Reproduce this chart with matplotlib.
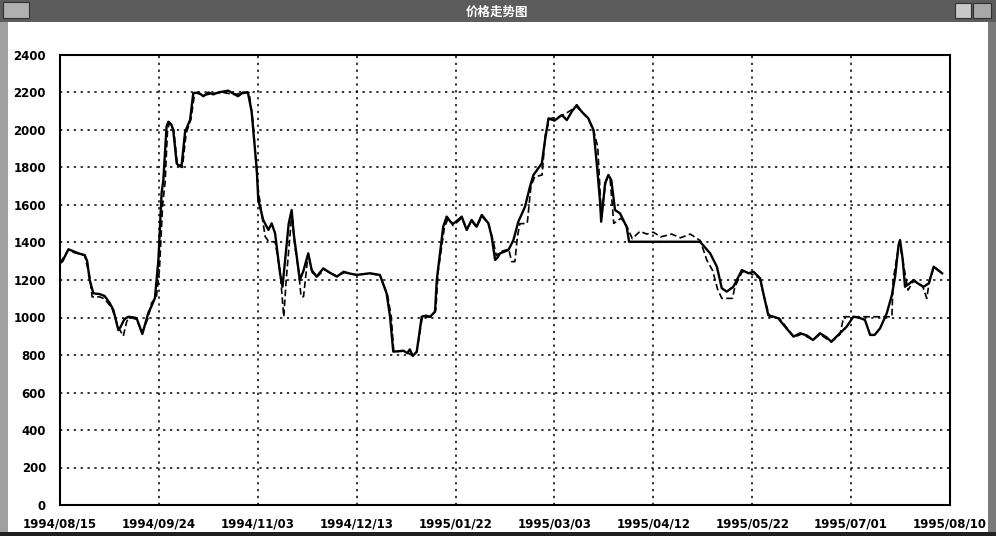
import numpy as np
import matplotlib
matplotlib.use("Agg")
import matplotlib.pyplot as plt
from matplotlib.patches import Rectangle

plt.rcParams['font.family'] = ['DejaVu Sans', 'Noto Sans CJK SC']

# day offsets from 1994/08/15 and values
solid_days = [0, 1, 3.4, 6, 8, 10, 11, 12, 13.5, 16, 18, 20, 21.6, 23.6, 24.5, 26, 27.6, 30, 31, 33.3,
              35.7, 37, 38.4, 39.8, 41.1, 41.8, 43.1, 43.8, 45, 45.8, 47.2, 48, 49.2, 50.6, 52.6, 53.9,
              56, 58, 60, 62, 64, 66, 68, 70, 72, 74, 76, 77.5, 79.6, 80.2, 82.2, 84.3, 85.6, 87, 89, 90,
              91, 92.5, 93.7, 94.5, 95.6, 97, 98.5, 100.4, 101.8, 103.8, 106.5, 109, 112, 114.7, 117, 120,
              123, 125.4, 129.4, 132.1, 133.5, 134.8, 137, 138.9, 140.5, 141.5, 142.7, 144.3, 146.3, 148,
              149.7, 151.7, 152.4, 155, 156.4, 158, 159, 161, 162.5, 164.5, 166.5, 168.5, 170.6, 173.3,
              174.6, 176, 177, 178, 181.4, 183.4, 185.4, 188.1, 190.1, 191.5, 194.9, 196.2, 197.6, 200,
              203, 205, 207, 209, 211, 213.7, 215.8, 217.1, 218.4, 218.9, 220.5, 221.8, 223, 224.5, 226.5,
              229.2, 230.2, 258.9, 263, 265.7, 267.7, 269.7, 272.4, 275.8, 278.5, 280.5, 283.2, 284.5,
              286.5, 290.5, 293.3, 296.7, 299.4, 302, 304.6, 307.4, 310, 312, 315.5, 318.2, 320.9, 323,
              325.6, 327.7, 329.5, 331.7, 334.4, 336.5, 337.8, 339.2, 339.8, 340.9, 341.8, 343.5, 345.3,
              347, 349.3, 351.4, 353.4, 356.8]
solid_vals = [1290, 1300, 1364, 1350, 1340, 1333, 1300, 1200, 1129, 1125, 1115, 1080, 1040, 933, 950, 990,
              1004, 1000, 996, 912, 1024, 1060, 1104, 1307, 1664, 1733, 2018, 2044, 2030, 2000, 1822, 1810,
              1813, 1991, 2053, 2196, 2200, 2180, 2200, 2190, 2200, 2205, 2210, 2195, 2180, 2200, 2200,
              2100, 1787, 1627, 1520, 1467, 1502, 1449, 1236, 1164, 1300, 1500, 1573, 1450, 1342, 1200,
              1250, 1342, 1253, 1218, 1262, 1240, 1218, 1244, 1235, 1227, 1232, 1236, 1227, 1129, 1004,
              818, 820, 823, 810, 830, 795, 818, 1004, 1010, 1004, 1031, 1200, 1484, 1538, 1510, 1500,
              1520, 1538, 1467, 1520, 1484, 1547, 1502, 1431, 1307, 1320, 1342, 1360, 1413, 1511, 1591,
              1698, 1760, 1822, 1947, 2062, 2050, 2080, 2053, 2098, 2133, 2098, 2062, 2000, 1822, 1627,
              1511, 1716, 1760, 1733, 1573, 1556, 1484, 1404, 1404, 1342, 1271, 1156, 1138, 1164, 1253,
              1236, 1244, 1209, 1129, 1013, 996, 951, 898, 916, 905, 880, 916, 895, 871, 916, 951, 1004,
              1000, 987, 907, 907, 942, 1022, 1120, 1218, 1387, 1413, 1307, 1164, 1180, 1200, 1182, 1164,
              1182, 1271, 1236]

dash_days = [0, 3.4, 6, 10, 12, 13, 16, 18, 21, 23.5, 25.6, 27, 28.5, 31, 33.3, 35.7, 37, 39, 40.2, 41.5,
             42.5, 43.5, 44.3, 46, 47.5, 49.5, 51, 53, 54.5, 58, 62, 66, 70, 74, 76.5, 78, 80, 81.5, 83,
             84.5, 87, 89, 90.5, 91.5, 93.8, 95, 96.5, 97.5, 98.5, 100.4, 102, 104, 107, 112, 115, 120,
             125.4, 129.4, 132.5, 134, 135, 139, 142.7, 144.3, 146.5, 150, 152, 153, 155.5, 157, 159,
             162.5, 164.5, 166.5, 168.5, 170.6, 173.3, 175, 176.5, 178, 181.5, 182.7, 184, 185, 186, 189,
             190.5, 192, 195, 196.3, 198, 203, 209, 213.7, 216, 217.5, 219, 220.8, 222.5, 224, 227,
             229.5, 231.5, 234.6, 237.3, 240, 243, 247.4, 251, 254.9, 259, 261.6, 264, 266, 267.7, 272,
             273, 276, 279, 283, 285, 287, 291, 294, 297, 300, 304.6, 307.4, 312, 315.5, 317, 336.5, 337,
             339.5, 340.5, 343, 345.3, 349, 350.6, 351.5, 353.5, 356.8]
dash_vals = [1290, 1360, 1345, 1330, 1220, 1110, 1110, 1100, 1050, 950, 901, 980, 1000, 990, 920, 1000,
             1077, 1110, 1250, 1600, 1720, 2000, 2040, 2000, 1810, 1800, 1980, 2060, 2200, 2185, 2195,
             2200, 2190, 2195, 2200, 2050, 1700, 1560, 1431, 1404, 1404, 1250, 1004, 1200, 1560, 1380,
             1250, 1111, 1111, 1342, 1240, 1218, 1255, 1220, 1240, 1228, 1234, 1225, 1120, 1000, 820,
             820, 798, 815, 1000, 1004, 1040, 1250, 1480, 1530, 1490, 1530, 1470, 1515, 1480, 1540, 1500,
             1420, 1330, 1350, 1365, 1298, 1298, 1430, 1500, 1502, 1700, 1750, 1760, 1973, 2060, 2075,
             2125, 2060, 1990, 1911, 1538, 1733, 1740, 1502, 1530, 1480, 1420, 1460, 1445, 1455, 1430,
             1445, 1425, 1445, 1410, 1307, 1250, 1150, 1102, 1102, 1164, 1245, 1236, 1210, 1100, 1004,
             996, 945, 895, 912, 880, 910, 870, 910, 1004, 1004, 1200, 1400, 1333, 1146, 1195, 1165,
             1102, 1180, 1270, 1236]

x_ticks = [0, 40, 80, 120, 160, 200, 240, 280, 320, 360]
x_labels = ['1994/08/15', '1994/09/24', '1994/11/03', '1994/12/13', '1995/01/22',
            '1995/03/03', '1995/04/12', '1995/05/22', '1995/07/01', '1995/08/10']
y_ticks = list(range(0, 2401, 200))

W, H = 996, 536
fig = plt.figure(figsize=(W / 100, H / 100), dpi=100)


def px(x0, y0, w, h, **kw):
    # rectangle given in pixel coords from the top-left corner
    fig.add_artist(Rectangle((x0 / W, 1 - (y0 + h) / H), w / W, h / H,
                             transform=fig.transFigure, **kw))


# window frame
px(0, 0, W, 22, facecolor='#5c5c5c', edgecolor='none')
px(3, 2, 26, 16, facecolor='#b0b0b0', edgecolor='#303030', lw=0.8)
px(955, 3, 16, 15, facecolor='#c8c8c8', edgecolor='#303030', lw=0.8)
px(973, 3, 18, 15, facecolor='#a8a8a8', edgecolor='#303030', lw=0.8)
px(0, 22, 8, H - 22, facecolor='#a0a0a0', edgecolor='none')
px(988, 22, 8, H - 22, facecolor='#7a7a7a', edgecolor='none')
px(0, 532, W, 4, facecolor='#202020', edgecolor='none')
fig.text(497 / W, 1 - 12 / H, '价格走势图', color='white', fontsize=9, fontweight='bold',
         ha='center', va='center', family=['Noto Sans CJK SC', 'DejaVu Sans'])

ax = fig.add_axes([60 / W, 1 - 505 / H, 890 / W, 450 / H])
ax.plot(dash_days, dash_vals, color='black', lw=1.2, ls=(0, (4, 2)))
ax.plot(solid_days, solid_vals, color='black', lw=1.7)

ax.set_xlim(0, 360)
ax.set_ylim(0, 2400)
ax.set_xticks(x_ticks)
ax.set_xticklabels(x_labels)
ax.set_yticks(y_ticks)
ax.tick_params(length=0, labelsize=8.5)
ax.tick_params(axis='x', pad=9)
ax.tick_params(axis='y', pad=10)
for lab in ax.get_xticklabels() + ax.get_yticklabels():
    lab.set_fontweight('bold')
ax.grid(True, color='black', ls=(0, (1.5, 3)), lw=1.1)
for s in ax.spines.values():
    s.set_linewidth(1.5)

fig.savefig('out.png', dpi=100)
